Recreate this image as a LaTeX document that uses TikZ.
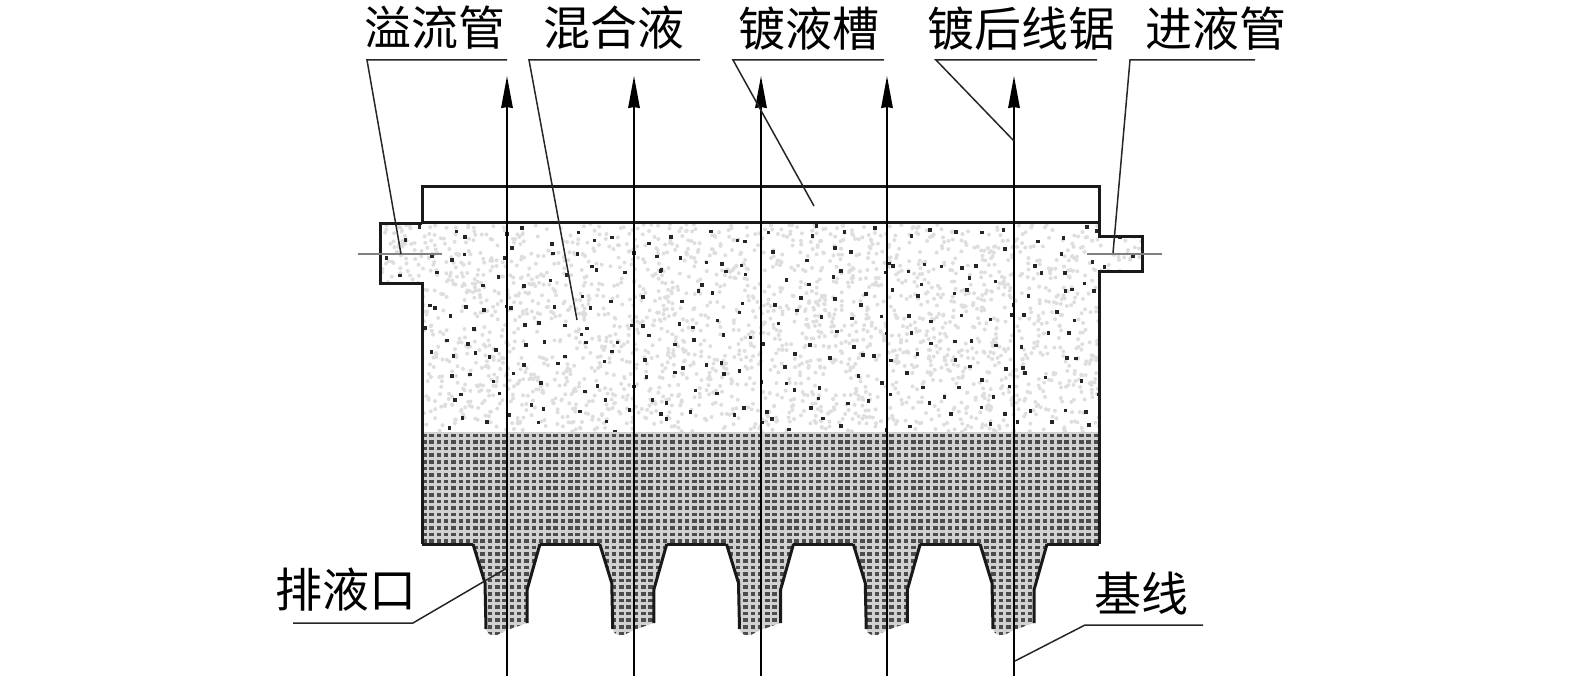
\documentclass[tikz,border=0pt]{standalone}
\usepackage{fontspec}
\setmainfont{Noto Sans CJK SC}
\usetikzlibrary{arrows.meta}
\tikzset{
  lbl/.style={inner sep=0pt,font=\fontsize{23.5}{24}\selectfont},
  tank/.style={line width=1.5pt,black!90,line join=miter},
  leader/.style={line width=0.75pt,black!85},
  wire/.style={line width=0.8pt,black,-{Stealth[length=16pt,width=5.8pt,inset=0.5pt]}},
  centre/.style={line width=1pt,black!50},
}
\newcommand{\upperpath}{(380,224) -- (422,224) -- (1099,224) -- (1099,237) -- (1142,237) -- (1142,272) -- (1099,272) -- (1099,432) -- (422,432) -- (422,284) -- (380,284) -- cycle}
\newcommand{\lowerpath}{(422,432) -- (1099,432) -- (1099,544) -- (422,544) -- cycle
  \foreach \t in {0,...,4} {
    ({473+126.75*\t},544) -- ({485+126.75*\t},583) -- ({486+126.75*\t},629)
    .. controls ({487+126.75*\t},634) and ({491+126.75*\t},636) .. ({497+126.75*\t},635)
    -- ({507+126.75*\t},630) -- ({527+126.75*\t},623) -- ({527+126.75*\t},590) -- ({540+126.75*\t},544) -- cycle
  }}
\begin{document}
\begin{tikzpicture}[x=0.5pt,y=-0.5pt]
  \useasboundingbox (0,0) rectangle (1575,679);
  % speckled liquid
  \pgfmathsetseed{4711}
  \begin{scope}
    \clip \upperpath;
    \foreach \i in {1,...,2600}
      \fill[black!13] ({380+762*rnd},{224+208*rnd}) circle (2);
    \foreach \r in {0,...,10}
      \foreach \c in {0,...,29}
        \fill[black!85] ({380+25.4*(\c+rnd)},{224+20.8*(\r+rnd)}) rectangle +(3.6,3.6);
  \end{scope}
  % settled layer
  \fill[black!18] \lowerpath;
  \begin{scope}
    \clip \lowerpath;
    \foreach \r in {0,...,31}
      \foreach \c in {0,...,92}
        \fill[black!70] ({422+7.3*\c},{433.5+6.6*\r}) rectangle +(4.5,3.6);
  \end{scope}
  % tank
  \draw[tank] (422,224) -- (422,187) -- (1099,187) -- (1099,237) -- (1142,237) -- (1142,272) -- (1099,272) -- (1099,544);
  \draw[tank] (422,223) -- (1099,223);
  \draw[tank] (422,544) -- (422,284) -- (380,284) -- (380,224) -- (422,224);
  \foreach \t in {0,...,4}
    \draw[tank] ({486+126.75*\t},629) -- ({485+126.75*\t},583) -- ({473+126.75*\t},544);
  \foreach \t in {0,...,4}
    \draw[tank] ({527+126.75*\t},623) -- ({527+126.75*\t},590) -- ({540+126.75*\t},544);
  \draw[tank] (422,544) -- (473,544);
  \draw[tank] (540,544) -- (600,544);
  \draw[tank] (667,544) -- (726,544);
  \draw[tank] (793,544) -- (853,544);
  \draw[tank] (920,544) -- (980,544);
  \draw[tank] (1047,544) -- (1099,544);
  % centre lines of the pipes
  \coordinate (pl1) at (358,254);
  \coordinate (pl2) at (442,254);
  \coordinate (pr1) at (1087,254);
  \coordinate (pr2) at (1162,254);
  \draw[centre] (pl1) -- (pl2);
  \draw[centre] (pr1) -- (pr2);
  % saw wires
  \coordinate (w1b) at (507,676);
  \coordinate (w1t) at (507,76);
  \coordinate (w2b) at (634,676);
  \coordinate (w2t) at (634,76);
  \coordinate (w3b) at (761,676);
  \coordinate (w3t) at (761,76);
  \coordinate (w4b) at (887,676);
  \coordinate (w4t) at (887,76);
  \coordinate (w5b) at (1014,676);
  \coordinate (w5t) at (1014,76);
  \draw[wire] (w1b) -- (w1t);
  \draw[wire] (w2b) -- (w2t);
  \draw[wire] (w3b) -- (w3t);
  \draw[wire] (w4b) -- (w4t);
  \draw[wire] (w5b) -- (w5t);
  % labels
  \node[lbl] (overflow) at (435,28) {溢流管};
  \node[lbl] (mixture) at (614,28) {混合液};
  \node[lbl] (bath) at (809,29) {镀液槽};
  \node[lbl] (sawed) at (1021,29) {镀后线锯};
  \node[lbl] (inlet) at (1216,29) {进液管};
  \node[lbl] (outlet) at (346,590) {排液口};
  \node[lbl] (baseline) at (1141,594) {基线};
  % leaders
  \coordinate (a1) at (507,60);
  \coordinate (a2) at (367,60);
  \coordinate (a3) at (401,254);
  \coordinate (b1) at (700,60);
  \coordinate (b2) at (529,60);
  \coordinate (b3) at (577,320);
  \coordinate (c1) at (884,60);
  \coordinate (c2) at (733,60);
  \coordinate (c3) at (814,206);
  \coordinate (d1) at (1097,60);
  \coordinate (d2) at (936,60);
  \coordinate (d3) at (1014,141);
  \coordinate (e1) at (1255,60);
  \coordinate (e2) at (1130,60);
  \coordinate (e3) at (1113,253);
  \coordinate (f1) at (293,623);
  \coordinate (f2) at (413,623);
  \coordinate (f3) at (507,568);
  \coordinate (g1) at (1203,625);
  \coordinate (g2) at (1085,625);
  \coordinate (g3) at (1015,661);
  \draw[leader] (a1) -- (a2) -- (a3);
  \draw[leader] (b1) -- (b2) -- (b3);
  \draw[leader] (c1) -- (c2) -- (c3);
  \draw[leader] (d1) -- (d2) -- (d3);
  \draw[leader] (e1) -- (e2) -- (e3);
  \draw[leader] (f1) -- (f2) -- (f3);
  \draw[leader] (g1) -- (g2) -- (g3);
\end{tikzpicture}
\end{document}
